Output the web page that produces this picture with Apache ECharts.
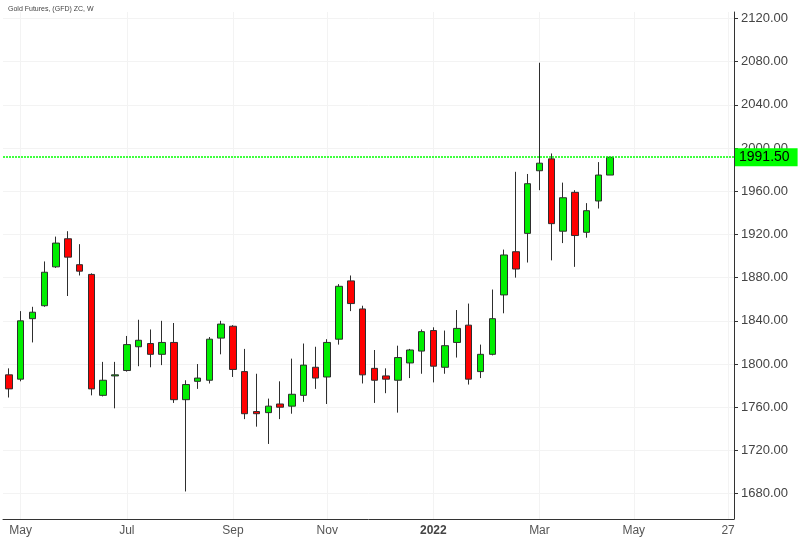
<!DOCTYPE html>
<html>
<head>
<meta charset="utf-8">
<title>Gold Futures weekly</title>
<script src="https://cdn.jsdelivr.net/npm/echarts@6/dist/echarts.min.js"></script>
<style>
  html, body { margin: 0; padding: 0; background: #fff; }
  #chart { width: 800px; height: 541px; }
</style>
</head>
<body>
<div id="chart"></div>
<script>
// weekly candles, oldest first (52 weeks shown, axis leaves room for 10 more)
const opens  = [1790, 1786, 1842, 1854, 1890, 1916, 1892, 1883, 1771, 1789,
                1794, 1816, 1819, 1809, 1820, 1767, 1784, 1785, 1824, 1835,
                1793, 1756, 1755, 1763, 1761, 1771, 1797, 1788, 1823, 1877,
                1851, 1796, 1789, 1785, 1801, 1812, 1831, 1797, 1820, 1836,
                1793, 1809, 1864, 1904, 1921, 1979, 1990, 1923, 1959, 1922,
                1951, 1975]
const closes = [1777, 1840, 1848, 1885, 1912, 1899, 1886, 1777, 1785, 1790,
                1818, 1822, 1809, 1820, 1767, 1781, 1787, 1823, 1837, 1795,
                1754, 1754, 1761, 1760, 1772, 1799, 1787, 1820, 1872, 1856,
                1790, 1785, 1786, 1806, 1813, 1830, 1798, 1817, 1833, 1786,
                1809, 1842, 1901, 1888, 1967, 1986, 1930, 1954, 1919, 1942,
                1975, 1991.5]
const lows   = [1769, 1784, 1820, 1853, 1889, 1863, 1882, 1771, 1770, 1759,
                1793, 1798, 1797, 1799, 1764, 1682, 1777, 1782, 1809, 1788,
                1749, 1742, 1726, 1749, 1754, 1765, 1777, 1763, 1818, 1849,
                1782, 1764, 1773, 1755, 1787, 1791, 1783, 1791, 1806, 1781,
                1787, 1808, 1847, 1880, 1894, 1961, 1896, 1912, 1890, 1917,
                1944, 1975]
const highs  = [1796, 1849, 1853, 1895, 1918, 1923, 1911, 1884, 1802, 1802,
                1826, 1841, 1832, 1840, 1838, 1785, 1800, 1825, 1840, 1836,
                1814, 1791, 1768, 1784, 1805, 1819, 1816, 1823, 1874, 1882,
                1854, 1813, 1796, 1817, 1814, 1832, 1834, 1831, 1850, 1856,
                1818, 1869, 1906, 1978, 1976, 2079, 1995, 1968, 1961, 1949,
                1987, 1992]

const lastPrice = 1991.5
const slotCount = 62
const startWeek = '2021-04-19'

// x tick labels, by week slot
const tickSlots  = [1, 10, 19, 27, 36, 45, 53, 61]
const tickLabels = ['May', 'Jul', 'Sep', 'Nov', '2022', 'Mar', 'May', '27']

// y tick values
const priceTicks = [1680, 1720, 1760, 1800, 1840, 1880, 1920, 1960, 2000, 2040, 2080, 2120]

const weeks = []
const d0 = new Date(startWeek + 'T00:00:00Z')
for (let i = 0; i < slotCount; i++) {
  const d = new Date(d0.getTime() + i * 7 * 86400000)
  weeks.push(d.toISOString().slice(0, 10))
}

const candles = opens.map((o, i) => [o, closes[i], lows[i], highs[i]])
const isTick = (index) => tickSlots.indexOf(index) !== -1
const font = 'Liberation Sans, Arial, sans-serif'

const chart = echarts.init(document.getElementById('chart'))

const option = {
  animation: false,
  backgroundColor: '#fff',
  title: {
    text: 'Gold Futures, (GFD) ZC, W',
    left: 3,
    top: 1,
    textStyle: { fontSize: 7, fontWeight: 'normal', color: '#444', fontFamily: font }
  },
  grid: { left: 3, right: 66, top: 12, bottom: 22 },
  xAxis: {
    type: 'category',
    data: weeks,
    boundaryGap: true,
    axisLine: { lineStyle: { color: '#333', width: 1 } },
    axisTick: {
      interval: isTick,
      alignWithLabel: true,
      length: 5,
      lineStyle: { color: '#333' }
    },
    axisLabel: {
      interval: isTick,
      fontSize: 12,
      color: '#555',
      fontFamily: font,
      margin: 6,
      formatter: (value, index) => {
        const k = tickSlots.indexOf(index)
        if (k === -1) return ''
        return tickLabels[k] === '2022' ? '{b|2022}' : tickLabels[k]
      },
      rich: { b: { fontWeight: 'bold', color: '#444', fontSize: 12, fontFamily: font } }
    },
    splitLine: {
      show: true,
      interval: isTick,
      alignWithLabel: true,
      lineStyle: { color: '#f3f3f3' }
    }
  },
  yAxis: {
    type: 'value',
    position: 'right',
    scale: true,
    min: 1656.5,
    max: 2126,
    axisLine: { show: true, lineStyle: { color: '#333', width: 1 } },
    axisTick: { show: true, length: 4, customValues: priceTicks, lineStyle: { color: '#333' } },
    axisLabel: {
      customValues: priceTicks,
      fontSize: 13,
      color: '#444',
      fontFamily: font,
      margin: 7,
      formatter: (v) => v.toFixed(2)
    },
    splitLine: { show: true, lineStyle: { color: '#f3f3f3' } }
  },
  series: [
    {
      type: 'candlestick',
      data: candles,
      barWidth: 7,
      itemStyle: {
        color: '#00ee00',
        color0: '#ff0000',
        borderColor: '#2e2e2e',
        borderColor0: '#2e2e2e',
        borderWidth: 1
      },
      markLine: {
        silent: true,
        symbol: ['none', 'none'],
        data: [{ yAxis: lastPrice }],
        lineStyle: { color: '#00ff00', type: [2, 1], width: 1.5 },
        label: {
          show: true,
          position: 'end',
          distance: 1,
          formatter: () => lastPrice.toFixed(2),
          backgroundColor: '#00ff00',
          color: '#000',
          fontSize: 14,
          fontFamily: font,
          padding: [2, 8, 2, 4]
        }
      }
    }
  ]
}

chart.setOption(option)
</script>
</body>
</html>
